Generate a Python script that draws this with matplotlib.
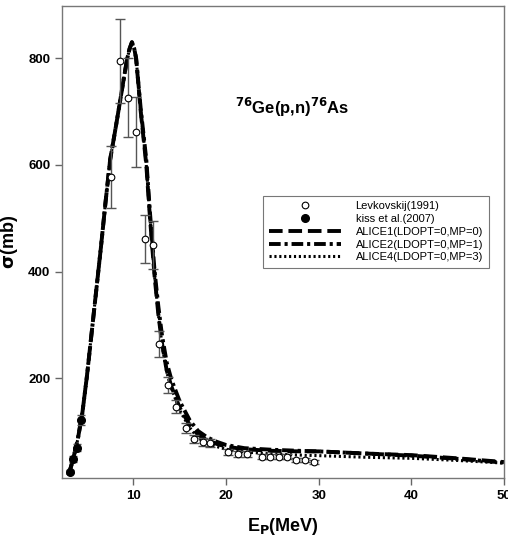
import matplotlib.pyplot as plt
import numpy as np

plt.rcParams['font.family'] = ['Liberation Sans', 'DejaVu Sans']

# Levkovskij (1991), open circles
lev_e = [7.6, 8.6, 9.46, 10.3, 11.27, 12.1, 12.75, 13.7, 14.6, 15.7, 16.6, 17.5, 18.3,
         20.2, 21.3, 22.3, 23.9, 24.8, 25.7, 26.6, 27.6, 28.5, 29.5]
lev_s = [577, 795, 726, 662, 461, 449, 264, 188, 147, 107, 86, 81, 79,
         62, 58, 58, 53, 53, 53, 53, 47, 47, 43]
lev_err = [58, 79, 74, 65, 45, 45, 25, 15, 12, 10, 8, 7, 7,
           6, 5, 5, 5, 5, 5, 5, 4, 4, 4]

# Kiss et al. (2007), filled circles
kiss_e = [3.12, 3.48, 3.91, 4.35]
kiss_s = [25, 49, 70, 122]
kiss_err = [3, 5, 6, 10]

# ALICE model curves
e_model = [3.0, 3.5, 4.0, 4.5, 5.0, 5.5, 6.0, 6.5, 7.0, 7.5, 8.0, 8.5, 9.0, 9.35, 9.6, 9.85,
           10.1, 10.3, 10.8, 11.4, 11.8, 12.3, 12.7, 13.1, 13.6, 14.1, 15.0, 16.1, 17.0,
           18.0, 19.0, 20.0, 22.0, 25.0, 28.0, 30.0, 35.0, 40.0, 45.0, 50.0]
alice1 = [18, 48, 85, 135, 205, 285, 365, 445, 530, 610, 660, 712, 765, 800, 818, 830,
          818, 800, 700, 600, 500, 390, 320, 265, 215, 185, 145, 112, 94,
          84, 77, 72, 67, 64, 63, 63, 59, 56, 50, 43]
alice2 = [18, 48, 85, 135, 205, 285, 365, 445, 530, 610, 660, 712, 765, 800, 818, 830,
          818, 800, 705, 610, 510, 400, 335, 280, 230, 198, 157, 121, 101,
          89, 81, 75, 69, 66, 64, 63, 59, 55, 49, 42]
alice4 = [18, 48, 85, 135, 205, 285, 365, 445, 530, 610, 660, 712, 765, 800, 818, 830,
          818, 800, 700, 600, 500, 390, 320, 262, 212, 182, 140, 107, 88,
          78, 72, 67, 62, 58, 56, 55, 52, 50, 46, 41]

fig = plt.figure(figsize=(5.08, 5.42), dpi=100)
ax = fig.add_axes([0.122, 0.118, 0.870, 0.871])

ax.plot(e_model, alice1, color='black', lw=2.8, dashes=(3.5, 1.5),
        label='ALICE1(LDOPT=0,MP=0)')
ax.plot(e_model, alice2, color='black', lw=2.8, dashes=(3, 1, 0.8, 1),
        label='ALICE2(LDOPT=0,MP=1)')
ax.plot(e_model, alice4, color='black', lw=2.2, dashes=(0.7, 0.9),
        label='ALICE4(LDOPT=0,MP=3)')

ax.errorbar(lev_e, lev_s, yerr=lev_err, fmt='none', ecolor='#555555', elinewidth=1,
            capsize=3.5, zorder=4)
ax.plot(lev_e, lev_s, 'o', mfc='white', mec='black', mew=0.8, ms=4.8,
        label='Levkovskij(1991)', zorder=5)
ax.errorbar(kiss_e, kiss_s, yerr=kiss_err, fmt='none', ecolor='#555555', elinewidth=1,
            capsize=3, zorder=4)
ax.plot(kiss_e, kiss_s, 'o', color='black', ms=5.5, label='kiss et al.(2007)', zorder=5)

ax.set_xlim(2.3, 50)
ax.set_ylim(13, 898)
ax.set_xticks([10, 20, 30, 40, 50])
ax.set_yticks([200, 400, 600, 800])
ax.tick_params(direction='out', length=5, width=1, color='#666666', labelsize=9.5)
for lab in ax.get_xticklabels() + ax.get_yticklabels():
    lab.set_fontweight('bold')
for s in ax.spines.values():
    s.set_color('#777777')
    s.set_linewidth(1)

ax.set_xlabel(r'E$_\mathbf{P}$(MeV)', fontsize=13, fontweight='bold', labelpad=10)
ax.set_ylabel(r'$\mathbf{\sigma}$(mb)', fontsize=13, fontweight='bold', labelpad=6)
ax.text(0.52, 0.784, r'$^{\mathbf{76}}$Ge(p,n)$^{\mathbf{76}}$As', transform=ax.transAxes,
        ha='center', va='center', fontsize=12, fontweight='bold')

h, l = ax.get_legend_handles_labels()
order = [3, 4, 0, 1, 2]
leg = ax.legend([h[i] for i in order], [l[i] for i in order], loc='upper left',
                bbox_to_anchor=(0.443, 0.61), fontsize=8, frameon=True, fancybox=False,
                edgecolor='#555555', handlelength=6.5, borderpad=0.5, labelspacing=0.25,
                handletextpad=1.3)
leg.get_frame().set_linewidth(0.8)

fig.savefig('out.png', dpi=100)
